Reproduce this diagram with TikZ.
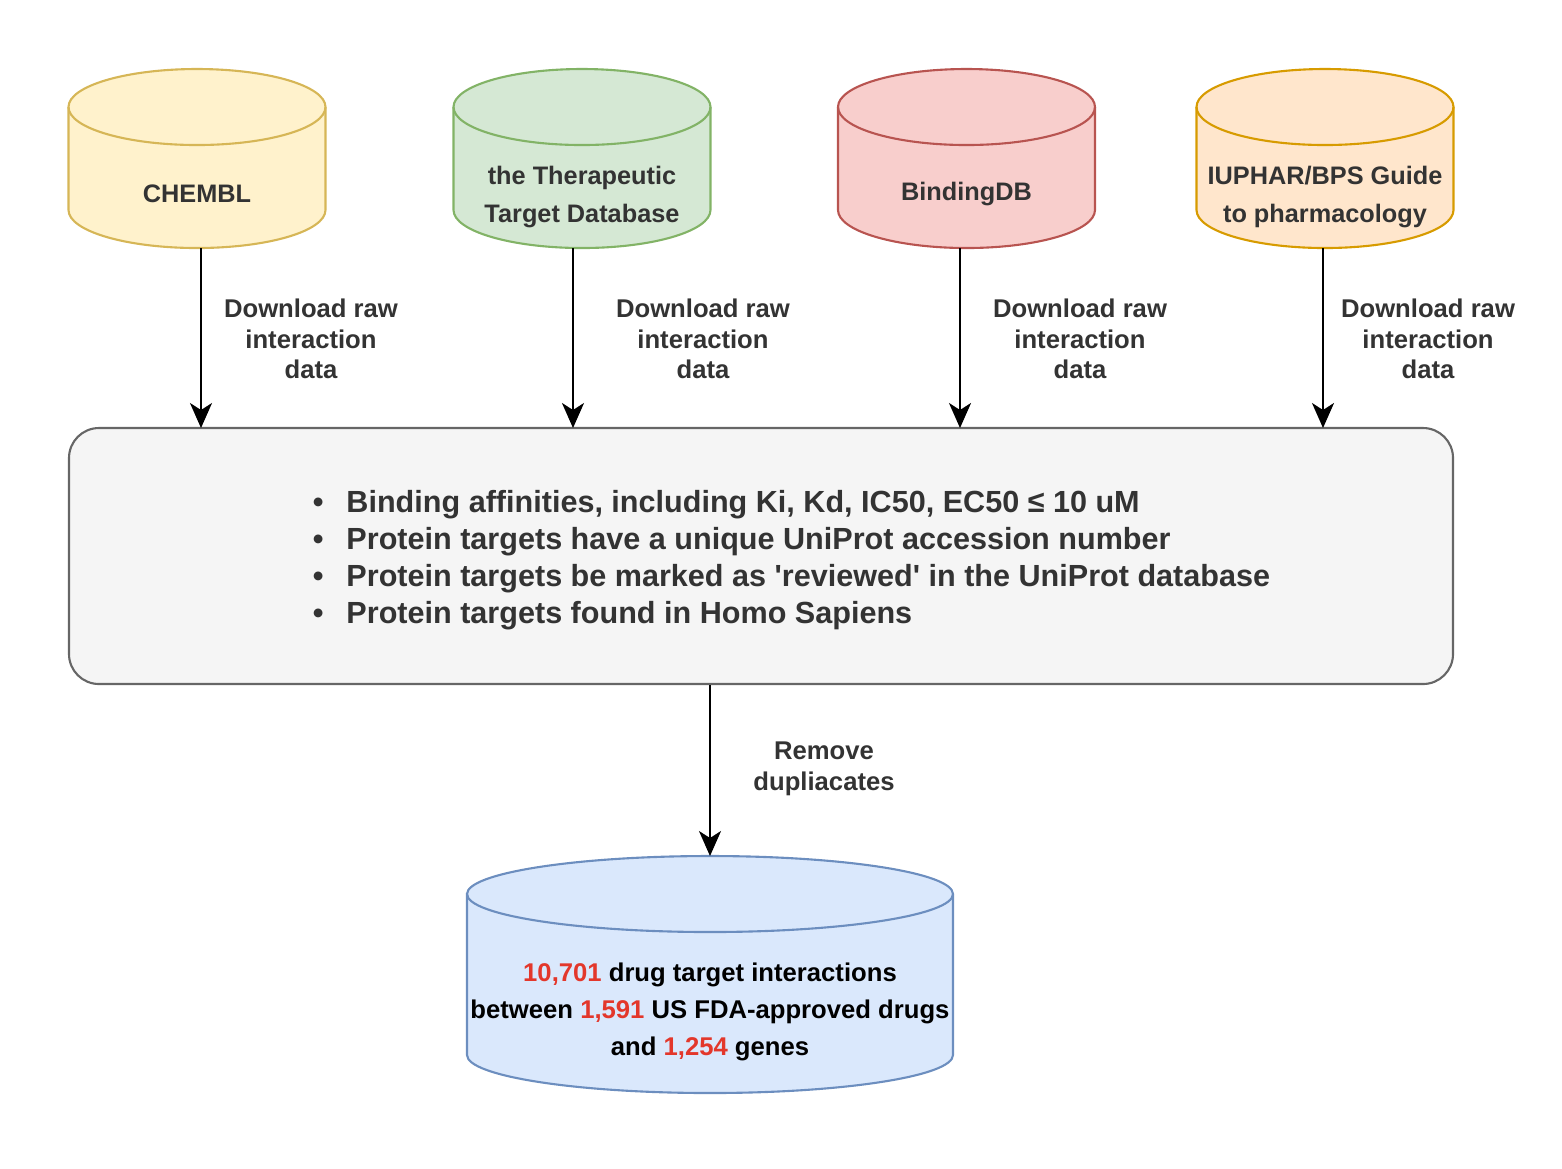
\documentclass[tikz,border=0pt]{standalone}
\usepackage{fontspec}
\setmainfont{Liberation Sans}
\usetikzlibrary{arrows.meta, positioning}
\definecolor{txtgrey}{HTML}{333333}
\definecolor{numred}{HTML}{E3372B}
\definecolor{yelfill}{HTML}{FFF2CC}
\definecolor{yeldraw}{HTML}{D6B656}
\definecolor{grnfill}{HTML}{D5E8D4}
\definecolor{grndraw}{HTML}{82B366}
\definecolor{redfill}{HTML}{F8CECC}
\definecolor{reddraw}{HTML}{B85450}
\definecolor{orgfill}{HTML}{FFE6CC}
\definecolor{orgdraw}{HTML}{D79B00}
\definecolor{blufill}{HTML}{DAE8FC}
\definecolor{bludraw}{HTML}{6C8EBF}
\definecolor{boxfill}{HTML}{F5F5F5}
\definecolor{boxdraw}{HTML}{666666}

% #1 node, #2 half width, #3 end radius, #4 fill, #5 border
\newcommand{\drawdb}[5]{%
    \draw[fill = #4, draw = #5] ([yshift = -#3]#1.north west) -- ([yshift = #3]#1.south west)
        arc[start angle = 180, end angle = 360, x radius = #2, y radius = #3]
        -- ([yshift = -#3]#1.north east)
        arc[start angle = 0, end angle = 180, x radius = #2, y radius = #3] -- cycle;
    \draw[draw = #5] ([yshift = -#3]#1.north east)
        arc[start angle = 0, end angle = -180, x radius = #2, y radius = #3];}

\begin{document}
\begin{tikzpicture}[line width = 0.6pt,
    dbcyl/.style = {minimum width = 2.57cm, minimum height = 1.79cm, inner sep = 0pt, outer sep = 0pt},
    dbtext/.style = {text = txtgrey, font = \fontsize{7.2}{10.8}\selectfont\bfseries, align = center},
    steplabel/.style = {text = txtgrey, font = \fontsize{7.3}{8.7}\selectfont\bfseries, align = center},
    arr/.style = {-{Stealth[length = 2.5mm, width = 2.2mm, inset = 0.7mm]}, black}]
    \useasboundingbox (0,0) rectangle (15.62,-11.68);

    % source databases
    \node[dbcyl] (chembl) at (1.97,-1.585) {};
    \node[dbcyl] (ttd) at (5.82,-1.585) {};
    \node[dbcyl] (bindingdb) at (9.665,-1.585) {};
    \node[dbcyl] (iuphar) at (13.25,-1.585) {};
    \drawdb{chembl}{1.285cm}{0.38cm}{yelfill}{yeldraw}
    \drawdb{ttd}{1.285cm}{0.38cm}{grnfill}{grndraw}
    \drawdb{bindingdb}{1.285cm}{0.38cm}{redfill}{reddraw}
    \drawdb{iuphar}{1.285cm}{0.38cm}{orgfill}{orgdraw}
    \node[dbtext] (chembl-txt) at ([yshift = -3.55mm]chembl.center) {CHEMBL};
    \node[dbtext] (ttd-txt) at ([yshift = -3.85mm]ttd.center) {the Therapeutic\\Target Database};
    \node[dbtext] (bindingdb-txt) at ([yshift = -3.55mm]bindingdb.center) {BindingDB};
    \node[dbtext] (iuphar-txt) at ([yshift = -3.85mm]iuphar.center) {IUPHAR/BPS Guide\\to pharmacology};

    % filtering criteria
    \node[draw = boxdraw, fill = boxfill, rounded corners = 3mm, minimum width = 13.84cm,
        minimum height = 2.56cm] (filter) at (7.61,-5.56) {};
    \node[anchor = west, text = txtgrey, font = \fontsize{8.7}{10.5}\selectfont\bfseries] (criteria) at (3.00,-5.605)
        {\begin{tabular}{@{}l@{\hspace{2.3mm}}l@{}}
            \textbullet & Binding affinities, including Ki, Kd, IC50, EC50 ≤ 10 uM\\
            \textbullet & Protein targets have a unique UniProt accession number\\
            \textbullet & Protein targets be marked as \textquotesingle reviewed\textquotesingle{} in the UniProt database\\
            \textbullet & Protein targets found in Homo Sapiens
        \end{tabular}};

    % result database
    \node[dbcyl, minimum width = 4.86cm, minimum height = 2.37cm] (result) at (7.10,-9.745) {};
    \drawdb{result}{2.43cm}{0.38cm}{blufill}{bludraw}
    \node[dbtext, text = black, font = \fontsize{7.3}{10.5}\selectfont\bfseries] (result-txt)
        at ([yshift = -3.75mm]result.center)
        {\textcolor{numred}{10,701} drug target interactions\\
         between \textcolor{numred}{1,591} US FDA-approved drugs\\
         and \textcolor{numred}{1,254} genes};

    % connectors
    \coordinate (in1) at (2.01,-4.28);
    \coordinate (in2) at (5.73,-4.28);
    \coordinate (in3) at (9.60,-4.28);
    \coordinate (in4) at (13.23,-4.28);
    \draw[arr] (chembl.south -| in1) -- (in1);
    \draw[arr] (ttd.south -| in2) -- (in2);
    \draw[arr] (bindingdb.south -| in3) -- (in3);
    \draw[arr] (iuphar.south -| in4) -- (in4);
    \draw[arr] (filter.south -| result.north) -- (result.north);

    \node[steplabel] (dl1) at (3.11,-3.39) {Download raw\\interaction\\data};
    \node[steplabel] (dl2) at (7.03,-3.39) {Download raw\\interaction\\data};
    \node[steplabel] (dl3) at (10.80,-3.39) {Download raw\\interaction\\data};
    \node[steplabel] (dl4) at (14.28,-3.39) {Download raw\\interaction\\data};
    \node[steplabel, font = \fontsize{7.3}{8.9}\selectfont\bfseries] (dedup) at (8.24,-7.69) {Remove\\dupliacates};
\end{tikzpicture}
\end{document}
